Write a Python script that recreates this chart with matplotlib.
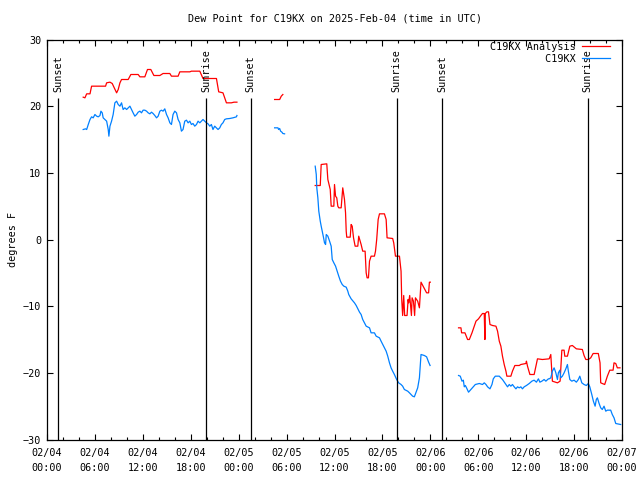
import numpy as np
import matplotlib
matplotlib.use("Agg")
import matplotlib.pyplot as plt
import matplotlib.dates as mdates

nan = np.nan

# hours after 2025-02-04 00:00 UTC, NaN breaks the line where data is missing
ana_hours = [4.54, 4.75, 4.96, 5.38, 5.58, 7.33, 7.46, 7.88, 8.17, 8.42, 8.71, 8.92, 9.13, 9.33,
             10.17, 10.5, 11.42, 11.63, 12.25, 12.58, 13.0, 13.38, 14.13, 14.54, 15.38, 15.58,
             16.42, 16.63, 17.88, 18.08, 19.13, 19.54, 21.21, 21.5, 22.04, 22.46, 23.08, 23.42, 23.79,
             nan,
             28.5, 29.13, 29.33, 29.54,
             nan,
             33.58, 34.21, 34.33, 35.04, 35.17, 35.46, 35.58, 35.92, 36.0, 36.13, 36.29, 36.42,
             36.54, 36.83, 37.04, 37.25, 37.38, 37.46, 37.54, 37.96, 38.08, 38.21, 38.38, 38.58,
             38.92, 39.04, 39.21, 39.33, 39.54, 39.83, 39.96, 40.08, 40.25, 40.38, 40.58, 41.0,
             41.13, 41.29, 41.46, 41.63, 42.25, 42.46, 42.58, 43.29, 43.42, 43.63, 44.13, 44.33,
             44.42, 44.54, 44.67, 44.79, 45.08, 45.21, 45.29, 45.42, 45.63, 45.71, 45.88, 46.04,
             46.13, 46.42, 46.63, 46.83, 47.54, 47.79, 47.88, 48.0,
             nan,
             51.54, 51.83, 51.92, 52.33, 52.67, 52.88, 53.21, 53.5, 53.71, 54.04, 54.33, 54.54,
             54.75, 54.83, 54.88, 55.08, 55.29, 55.46, 55.79, 56.21, 56.42, 56.63, 56.83, 57.04,
             57.25, 57.46, 57.58, 58.08, 58.29, 58.58, 59.13, 59.33, 59.96, 60.04, 60.17, 60.46,
             61.0, 61.21, 61.42, 62.04, 62.88, 63.08, 63.29, 63.92, 64.25, 64.46, 64.75, 64.83,
             65.17, 65.46, 65.79, 66.29, 67.04, 67.25, 67.46, 67.79, 68.08, 68.38, 69.04, 69.25,
             69.33, 69.83, 70.17, 70.46, 70.88, 71.0, 71.21, 71.42, 71.75]
ana_vals = [21.35, 21.25, 21.85, 21.85, 23.0, 23.0, 23.5, 23.6, 23.4, 22.75, 22.0, 22.5, 23.5, 24.0,
            24.0, 24.75, 24.75, 24.4, 24.4, 25.5, 25.5, 24.6, 24.6, 24.9, 24.9, 24.5,
            24.5, 25.15, 25.15, 25.25, 25.25, 24.15, 24.15, 22.15, 22.0, 20.5, 20.5, 20.6, 20.6,
            nan,
            21.0, 21.0, 21.5, 21.75,
            nan,
            8.1, 8.1, 11.25, 11.35, 9.0, 7.5, 5.0, 5.0, 8.25, 6.5, 6.25, 5.0,
            4.75, 4.75, 7.75, 6.0, 4.0, 1.25, 0.35, 0.35, 2.25, 2.0, 0.25, -1.0,
            -1.0, 0.5, -0.25, -0.75, -1.75, -1.75, -5.0, -5.75, -5.75, -3.25, -2.5, -2.5,
            -1.75, 0.0, 3.0, 3.85, 3.85, 3.0, 0.25, 0.15, -0.5, -2.5, -2.5, -4.75,
            -9.0, -11.4, -8.4, -11.4, -11.4, -9.0, -9.5, -8.4, -11.4, -8.75, -9.25, -11.4,
            -8.75, -9.25, -10.25, -6.4, -8.0, -8.0, -6.4, -6.4,
            nan,
            -13.25, -13.25, -14.0, -14.0, -15.0, -15.0, -14.0, -13.0, -12.25, -11.9, -11.4, -11.1,
            -11.1, -15.0, -11.1, -10.85, -10.85, -12.75, -12.9, -13.0, -13.75, -15.25, -16.0, -17.5,
            -18.75, -19.75, -20.5, -20.5, -19.75, -18.9, -18.9, -18.75, -18.6, -18.25, -19.0, -20.25,
            -20.25, -19.0, -17.9, -18.0, -17.9, -17.25, -21.25, -21.5, -21.25, -16.6, -16.6, -17.5,
            -17.5, -16.0, -15.9, -16.4, -16.5, -17.4, -18.0, -18.0, -17.75, -17.1, -17.1, -18.5,
            -21.5, -21.75, -20.5, -19.6, -19.6, -18.5, -18.6, -19.25, -19.25]

obs_hours = [4.54, 4.83, 4.96, 5.17, 5.38, 5.58, 5.79, 6.0, 6.21, 6.42, 6.63, 6.75, 6.92, 7.04,
             7.25, 7.46, 7.67, 7.75, 7.88, 8.08, 8.29, 8.5, 8.71, 8.92, 9.13, 9.33, 9.54, 9.75,
             9.96, 10.17, 10.38, 10.58, 10.79, 11.0, 11.21, 11.42, 11.63, 11.83, 12.04, 12.25,
             12.46, 12.67, 12.88, 13.08, 13.29, 13.5, 13.71, 13.92, 14.13, 14.33, 14.54, 14.75,
             14.96, 15.17, 15.38, 15.58, 15.79, 16.0, 16.21, 16.42, 16.63, 16.83, 17.04, 17.25,
             17.46, 17.67, 17.88, 18.08, 18.29, 18.5, 18.71, 18.92, 19.13, 19.33, 19.54, 19.75,
             19.96, 20.17, 20.38, 20.58, 20.79, 21.0, 21.21, 21.42, 21.63, 21.83, 22.04, 22.25,
             22.46, 22.88, 23.29, 23.71, 23.79,
             nan,
             28.5, 28.92, 29.0, 29.13, 29.25, 29.42, 29.54, 29.75,
             nan,
             33.58, 33.71, 33.79, 33.92, 34.04, 34.21, 34.33, 34.46, 34.63, 34.75, 34.88, 34.96,
             35.17, 35.38, 35.58, 35.71, 35.92, 36.13, 36.33, 36.54, 36.75, 36.96, 37.17, 37.46,
             37.67, 37.79, 38.08, 38.5, 38.71, 39.13, 39.33, 39.54, 39.75, 39.96, 40.38, 40.58,
             41.0, 41.21, 41.63, 41.83, 42.25, 42.46, 42.67, 42.88, 43.08, 43.29, 43.5, 43.79,
             44.04, 44.33, 44.54, 44.75, 45.17, 45.38, 45.79, 46.0, 46.42, 46.63, 46.83, 47.25,
             47.54, 47.79, 47.96,
             nan,
             51.54, 51.75, 51.96, 52.13, 52.25, 52.38, 52.54, 52.79, 53.08, 53.29, 53.63, 54.13,
             54.54, 54.75, 54.96, 55.17, 55.46, 55.71, 55.88, 56.13, 56.63, 57.04, 57.46, 57.67,
             57.88, 58.08, 58.29, 58.5, 58.71, 58.92, 59.13, 59.33, 59.54, 59.75, 60.04, 60.38,
             60.71, 61.0, 61.29, 61.54, 61.71, 61.96, 62.25, 62.46, 62.79, 62.88, 63.08, 63.29,
             63.5, 63.71, 63.92, 64.04, 64.21, 64.33, 64.54, 64.75, 64.96, 65.17, 65.29, 65.46,
             65.71, 66.0, 66.29, 66.54, 66.71, 66.96, 67.25, 67.54, 67.79, 67.96, 68.21, 68.42,
             68.63, 68.79, 68.92, 69.13, 69.33, 69.54, 69.75, 69.96, 70.17, 70.58, 70.79, 71.0,
             71.21, 71.83]
obs_vals = [16.5, 16.6, 16.5, 17.25, 18.0, 18.4, 18.25, 18.75, 18.5, 18.4, 18.6, 19.25, 19.0, 18.25,
            18.0, 17.75, 16.5, 15.5, 17.0, 17.75, 18.75, 20.5, 20.75, 20.25, 20.0, 20.5, 19.5, 19.75,
            19.5, 19.75, 20.0, 19.5, 19.0, 18.5, 18.75, 19.1, 19.25, 19.0, 19.4, 19.4,
            19.25, 19.0, 18.85, 19.1, 18.9, 18.6, 18.25, 18.5, 19.25, 19.4, 19.25, 19.6,
            18.75, 18.25, 17.5, 17.25, 18.75, 19.25, 19.0, 18.0, 17.5, 16.25, 16.5, 17.75,
            17.9, 17.5, 17.75, 17.25, 17.4, 17.0, 17.25, 17.75, 17.5, 17.75, 18.0, 17.75,
            17.5, 17.35, 17.0, 17.25, 16.5, 17.0, 16.75, 16.5, 16.75, 17.25, 17.5, 18.0,
            18.1, 18.15, 18.25, 18.4, 18.6,
            nan,
            16.75, 16.75, 16.5, 16.65, 16.25, 16.1, 15.9, 15.85,
            nan,
            11.0, 9.75, 7.75, 6.25, 4.25, 2.75, 2.0, 1.25, 0.25, -0.5, -0.75, 0.75,
            0.5, -0.25, -1.0, -3.0, -3.5, -4.0, -4.75, -5.5, -6.25, -6.75, -7.0, -7.15,
            -7.75, -8.25, -8.9, -9.5, -9.9, -10.9, -11.25, -12.0, -12.5, -13.0, -13.25, -14.0,
            -14.0, -14.5, -14.75, -15.25, -16.25, -16.75, -17.5, -18.5, -19.25, -19.75, -20.25, -21.0,
            -21.5, -21.75, -22.0, -22.5, -22.75, -23.0, -23.5, -23.6, -22.25, -20.75, -17.25, -17.4,
            -17.6, -18.4, -18.9,
            nan,
            -20.4, -20.5, -21.25, -21.1, -22.1, -21.9, -22.25, -22.9, -22.5, -22.25, -21.75, -21.6,
            -21.75, -21.5, -21.75, -22.1, -22.4, -21.75, -20.9, -20.5, -20.5, -21.0, -21.75, -22.1,
            -21.75, -22.0, -21.75, -22.1, -22.4, -22.1, -22.25, -22.1, -22.4, -22.1, -21.9, -21.6,
            -21.25, -21.1, -21.4, -20.9, -21.4, -21.25, -21.0, -21.25, -20.9, -20.9, -20.75, -19.75,
            -19.25, -20.0, -21.0, -20.0, -19.6, -20.75, -20.5, -20.0, -19.4, -18.75, -19.75, -21.0,
            -21.25, -21.1, -21.4, -21.0, -20.5, -21.5, -21.75, -21.9, -21.6, -22.1, -23.25, -24.25,
            -25.0, -24.0, -23.75, -24.6, -25.25, -25.5, -25.0, -25.75, -25.6, -25.6, -26.25, -26.75,
            -27.6, -27.75]

sun_hours = [1.42, 19.9, 25.5, 43.8, 49.5, 67.7]
sun_labels = ["Sunset", "Sunrise", "Sunset", "Sunrise", "Sunset", "Sunrise"]

start = np.datetime64("2025-02-04T00:00")


def to_time(hours):
    mins = np.round(np.array(hours) * 60)
    out = np.full(len(mins), np.datetime64("NaT"), dtype="datetime64[m]")
    ok = ~np.isnan(mins)
    out[ok] = start + mins[ok].astype("timedelta64[m]")
    return out


plt.rcParams["font.family"] = ["DejaVu Sans Mono"]
plt.rcParams["font.size"] = 7.3

fig = plt.figure(figsize=(6.4, 4.8), dpi=100)
ax = fig.add_axes([47 / 640, 1 - 439.5 / 480, 575 / 640, 400 / 480])

ax.plot(to_time(ana_hours), ana_vals, color="#ff0000", lw=0.9, label="C19KX Analysis")
ax.plot(to_time(obs_hours), obs_vals, color="#0080ff", lw=0.9, label="C19KX".rjust(14))

sun_t = to_time(sun_hours)
for t, lab in zip(sun_t, sun_labels):
    ax.vlines(t, -30, 21.2, color="black", lw=0.9)
    ax.text(t, 22.2, lab, rotation=90, ha="center", va="bottom")

ax.set_xlim(start, start + np.timedelta64(72, "h"))
ax.set_ylim(-30, 30)
ax.set_yticks(np.arange(-30, 31, 10))
ax.xaxis.set_major_locator(mdates.HourLocator(byhour=[0, 6, 12, 18]))
ax.xaxis.set_minor_locator(mdates.HourLocator(interval=2))
ax.xaxis.set_major_formatter(mdates.DateFormatter("%m/%d\n%H:%M"))
ax.tick_params(which="both", direction="in", top=True, right=True, width=0.8)
ax.tick_params(which="major", length=4, pad=4)
ax.tick_params(axis="x", which="major", pad=6)
ax.tick_params(which="minor", length=2.5)
plt.setp(ax.get_xticklabels(), linespacing=1.6)
for s in ax.spines.values():
    s.set_linewidth(0.9)

ax.set_ylabel("degrees F", labelpad=4)
ax.set_title("Dew Point for C19KX on 2025-Feb-04 (time in UTC)", fontsize=7.3, pad=13)

ax.legend(loc="upper right", bbox_to_anchor=(0.979, 0.995), frameon=False, markerfirst=False,
          handlelength=2.8, handletextpad=0.6, labelspacing=0.25, borderpad=0, borderaxespad=0)

fig.savefig("out.png", dpi=100)
